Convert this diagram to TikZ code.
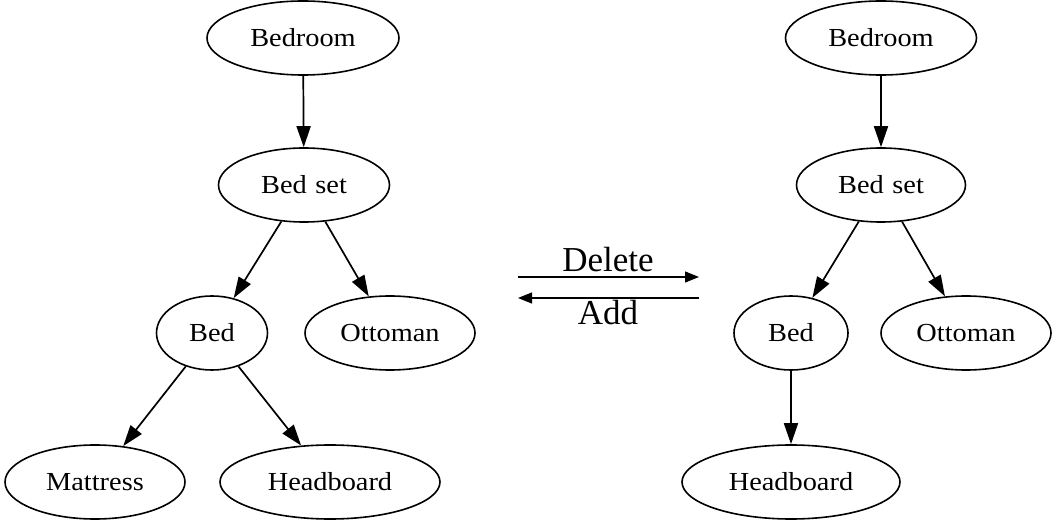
\documentclass[tikz,border=0pt]{standalone}
\usepackage{fontspec}
\setmainfont{Liberation Serif}
\newfontfamily\nodefont[FakeStretch=1.09]{Liberation Serif}
\usetikzlibrary{shapes.geometric,arrows.meta}
\tikzset{
  ell/.style={ellipse, draw, line width=1.6pt, inner sep=0pt, minimum height=74pt,
    font=\nodefont\fontsize{26}{28}\selectfont},
  edge/.style={line width=1.7pt, -{Triangle[length=21pt,width=14pt]}},
  opedge/.style={line width=1.2pt, -{Triangle[length=14pt,width=11pt]}},
  oplabel/.style={anchor=base, inner sep=0pt, font=\fontsize{35}{36}\selectfont}
}
\begin{document}
\begin{tikzpicture}[x=1pt,y=-1pt]
\useasboundingbox (0,0) rectangle (1053,529);
% left tree
\node[ell, minimum width=192pt] (L1) at (303,38) {Bedroom};
\node[ell, minimum width=171pt] (L2) at (304,185) {Bed\,\,set};
\node[ell, minimum width=111pt] (L3) at (212,333) {Bed};
\node[ell, minimum width=170pt] (L4) at (390,333) {Ottoman};
\node[ell, minimum width=180pt] (L5) at (95,482) {Mattress};
\node[ell, minimum width=220pt] (L6) at (330,482) {Headboard};
\draw[edge] (L1) -- (L2);
\draw[edge] (L2) -- (L3);
\draw[edge] (L2) -- (L4);
\draw[edge] (L3) -- (L5);
\draw[edge] (L3) -- (L6);
% right tree
\node[ell, minimum width=191pt] (R1) at (881,38) {Bedroom};
\node[ell, minimum width=169pt] (R2) at (881,185) {Bed\,\,set};
\node[ell, minimum width=114pt] (R3) at (791,333) {Bed};
\node[ell, minimum width=170pt] (R4) at (966,333) {Ottoman};
\node[ell, minimum width=218pt] (R5) at (791,482) {Headboard};
\draw[edge] (R1) -- (R2);
\draw[edge] (R2) -- (R3);
\draw[edge] (R2) -- (R4);
\draw[edge] (R3) -- (R5);
% operations
\node[oplabel] (del) at (608,272) {Delete};
\node[oplabel] (add) at (608,325) {Add};
\coordinate (d1) at (518,277);
\coordinate (d2) at (699,277);
\coordinate (a1) at (699,298);
\coordinate (a2) at (518,298);
\draw[opedge] (d1) -- (d2);
\draw[opedge] (a1) -- (a2);
\end{tikzpicture}
\end{document}
